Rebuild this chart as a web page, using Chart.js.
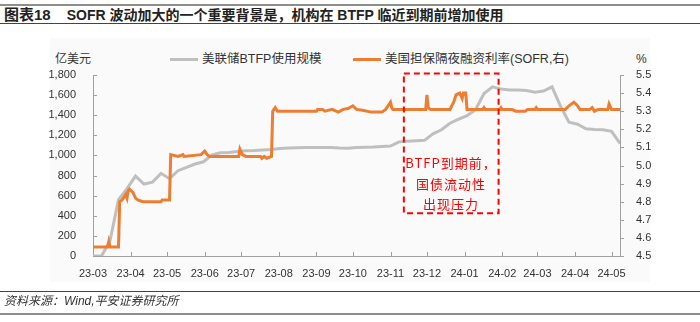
<!DOCTYPE html>
<html>
<head>
<meta charset="utf-8">
<script src="https://cdn.jsdelivr.net/npm/chart.js@4.4.1/dist/chart.umd.min.js"></script>
<style>
  body { margin: 0; background: #fff; }
  #wrap { position: relative; width: 700px; height: 322px; overflow: hidden; font-family: "Liberation Sans", "Noto Sans CJK SC", sans-serif; color: #222; }
  #wrap div { position: absolute; white-space: nowrap; }
  .topline { left: 0; top: 4px; width: 700px; height: 2px; background: #8e8e8e; }
  .title { left: 4px; top: 6px; font-size: 14px; font-weight: bold; line-height: 18px; }
  .title span { margin-right: 16px; font-size: 15px; }
  .titleline { left: 0; top: 23px; width: 700px; height: 1px; background: #444; }
  .panel { left: 50px; top: 38px; width: 600px; height: 244px; background: #fafafa; }
  .unit { top: 51px; font-size: 12px; line-height: 16px; color: #333; }
  .legend { top: 51px; font-size: 12.5px; line-height: 16px; color: #333; }
  .swatch { top: 58px; width: 28px; height: 3px; }
  .note { font-family: "Noto Sans CJK SC", sans-serif; color: #ff0000; font-size: 13px; line-height: 16px; letter-spacing: 1px; transform: translateX(-50%); }
  .footline1 { left: 0; top: 291px; width: 700px; height: 1px; background: #444; }
  .source { left: 4px; top: 293px; font-size: 12px; line-height: 16px; font-style: italic; color: #333; }
  .footline2 { left: 0; top: 313px; width: 700px; height: 2px; background: #8e8e8e; }
  canvas { position: absolute; left: 0; top: 0; }
</style>
</head>
<body>
<div id="wrap">
  <div class="topline"></div>
  <div class="title"><span>图表18</span>SOFR 波动加大的一个重要背景是，机构在 BTFP 临近到期前增加使用</div>
  <div class="titleline"></div>
  <div class="panel"></div>
  <div class="unit" style="left:55px">亿美元</div>
  <div class="unit" style="left:636px">%</div>
  <div class="swatch" style="left:170px;background:#bfbfbf"></div>
  <div class="legend" style="left:202px">美联储BTFP使用规模</div>
  <div class="swatch" style="left:353px;background:#ed7d31"></div>
  <div class="legend" style="left:385px">美国担保隔夜融资利率(SOFR,右)</div>
  <canvas id="chart" width="700" height="322"></canvas>
  <div class="note" style="left:451px;top:155px">BTFP到期前，</div>
  <div class="note" style="left:451px;top:176px">国债流动性</div>
  <div class="note" style="left:451px;top:196px">出现压力</div>
  <div class="footline1"></div>
  <div class="source">资料来源：Wind,平安证券研究所</div>
  <div class="footline2"></div>
</div>
<script>
// 月份刻度
const monthLabels = ['23-03', '23-04', '23-05', '23-06', '23-07', '23-08', '23-09', '23-10', '23-11', '23-12', '24-01', '24-02', '24-03', '24-04', '24-05'];

// 美联储BTFP使用规模（亿美元，周度）
const btfpDates = [
  '2023-03-01', '2023-03-08', '2023-03-15', '2023-03-22', '2023-03-29', '2023-04-05', '2023-04-12', '2023-04-19', '2023-04-26',
  '2023-05-03', '2023-05-10', '2023-05-17', '2023-05-24', '2023-05-31', '2023-06-07', '2023-06-14', '2023-06-21', '2023-06-28',
  '2023-07-05', '2023-07-12', '2023-07-19', '2023-07-26', '2023-08-02', '2023-08-09', '2023-08-16', '2023-08-23', '2023-08-30',
  '2023-09-06', '2023-09-13', '2023-09-20', '2023-09-27', '2023-10-04', '2023-10-11', '2023-10-18', '2023-10-25', '2023-11-01',
  '2023-11-08', '2023-11-15', '2023-11-22', '2023-11-29', '2023-12-06', '2023-12-13', '2023-12-20', '2023-12-27', '2024-01-03',
  '2024-01-10', '2024-01-17', '2024-01-24', '2024-01-31', '2024-02-07', '2024-02-14', '2024-02-21', '2024-02-28', '2024-03-06',
  '2024-03-13', '2024-03-20', '2024-03-27', '2024-04-03', '2024-04-10', '2024-04-17', '2024-04-24', '2024-05-01', '2024-05-08'
];
const btfpValues = [
  0, 0, 150, 560, 670, 795, 716, 735, 822,
  769, 848, 882, 915, 937, 1005, 1027, 1030, 1040,
  1047, 1050, 1055, 1060, 1068, 1075, 1077, 1078, 1078,
  1080, 1080, 1075, 1072, 1078, 1082, 1085, 1090, 1093,
  1135, 1140, 1145, 1150, 1215, 1255, 1320, 1360, 1395,
  1455, 1615, 1682, 1660, 1650, 1650, 1645, 1628, 1640,
  1682, 1490, 1330, 1310, 1265, 1258, 1256, 1240, 1120
];

// 美国担保隔夜融资利率 SOFR（%，右轴）
const sofrDates = [
  '2023-03-01', '2023-03-13', '2023-03-14', '2023-03-15', '2023-03-22', '2023-03-23', '2023-03-25', '2023-03-26', '2023-03-28',
  '2023-03-29', '2023-03-30', '2023-03-31', '2023-04-03', '2023-04-05', '2023-04-07', '2023-04-11', '2023-04-26', '2023-04-27',
  '2023-05-03', '2023-05-04', '2023-05-10', '2023-05-14', '2023-05-15', '2023-05-29', '2023-06-01', '2023-06-03', '2023-06-05',
  '2023-06-29', '2023-06-30', '2023-07-02', '2023-07-05', '2023-07-17', '2023-07-18', '2023-07-20', '2023-07-22', '2023-07-26',
  '2023-07-27', '2023-07-29', '2023-07-31', '2023-09-01', '2023-09-02', '2023-09-06', '2023-09-08', '2023-09-14', '2023-09-19',
  '2023-09-23', '2023-09-27', '2023-10-01', '2023-10-04', '2023-10-09', '2023-10-16', '2023-10-25', '2023-10-28', '2023-11-01',
  '2023-11-02', '2023-11-03', '2023-11-30', '2023-12-01', '2023-12-02', '2023-12-04', '2023-12-20', '2023-12-23', '2023-12-25',
  '2023-12-28', '2023-12-30', '2023-12-31', '2024-01-02', '2024-01-03', '2024-01-16', '2024-01-17', '2024-01-18', '2024-01-30',
  '2024-01-31', '2024-02-01', '2024-02-09', '2024-02-12', '2024-02-20', '2024-02-22', '2024-02-28', '2024-02-29', '2024-03-01',
  '2024-03-24', '2024-03-27', '2024-03-31', '2024-04-03', '2024-04-05', '2024-04-13', '2024-04-15', '2024-04-17', '2024-04-20',
  '2024-04-28', '2024-04-29', '2024-05-01', '2024-05-08'
];
const sofrValues = [
  4.55, 4.55, 4.58, 4.55, 4.55, 4.80, 4.81, 4.82, 4.84,
  4.82, 4.86, 4.87, 4.85, 4.82, 4.81, 4.80, 4.80, 4.81,
  4.81, 5.06, 5.05, 5.06, 5.05, 5.06, 5.08, 5.06, 5.05,
  5.05, 5.09, 5.06, 5.05, 5.05, 5.04, 5.05, 5.04, 5.05,
  5.30, 5.32, 5.30, 5.30, 5.31, 5.31, 5.30, 5.31, 5.295,
  5.31, 5.315, 5.33, 5.31, 5.305, 5.295, 5.295, 5.31, 5.35,
  5.32, 5.31, 5.31, 5.39, 5.32, 5.31, 5.31, 5.35, 5.39,
  5.40, 5.37, 5.40, 5.40, 5.31, 5.31, 5.32, 5.31, 5.31,
  5.32, 5.31, 5.31, 5.30, 5.30, 5.31, 5.31, 5.32, 5.31,
  5.31, 5.33, 5.35, 5.33, 5.31, 5.31, 5.32, 5.30, 5.31,
  5.31, 5.34, 5.31, 5.31
];

// 标注框范围
const boxFrom = '2023-11-12';
const boxTo = '2024-01-29';
const boxTop = 1815;
const boxBottom = 425;

const dayZero = Date.UTC(2023, 2, 1);
const toDay = (s) => {
  const [y, m, d] = s.split('-').map(Number);
  return (Date.UTC(y, m - 1, d) - dayZero) / 86400000;
};
const monthDays = monthLabels.map(l => toDay('20' + l + '-01'));

const axisColor = '#a0a0a0';

// 刻度线朝内 + 红色虚线框
const decorPlugin = {
  id: 'decor',
  beforeDatasetsDraw(chart) {
    const { ctx, scales: { x, y, y1 } } = chart;
    ctx.save();
    ctx.strokeStyle = axisColor;
    ctx.lineWidth = 1;
    ctx.beginPath();
    x.ticks.forEach(t => {
      const px = Math.round(x.getPixelForValue(t.value)) + 0.5;
      ctx.moveTo(px, y.bottom);
      ctx.lineTo(px, y.bottom - 4);
    });
    y.ticks.forEach(t => {
      const py = Math.round(y.getPixelForValue(t.value)) + 0.5;
      ctx.moveTo(x.left, py);
      ctx.lineTo(x.left + 4, py);
    });
    y1.ticks.forEach(t => {
      const py = Math.round(y1.getPixelForValue(t.value)) + 0.5;
      ctx.moveTo(x.right, py);
      ctx.lineTo(x.right + 4, py);
    });
    ctx.stroke();
    ctx.restore();
  },
  afterDatasetsDraw(chart) {
    const { ctx, scales: { x, y } } = chart;
    const l = x.getPixelForValue(toDay(boxFrom));
    const r = x.getPixelForValue(toDay(boxTo));
    const t = y.getPixelForValue(boxTop);
    const b = y.getPixelForValue(boxBottom);
    ctx.save();
    ctx.strokeStyle = '#ff0000';
    ctx.lineWidth = 2;
    ctx.setLineDash([6, 4]);
    ctx.strokeRect(l, t, r - l, b - t);
    ctx.restore();
  }
};

Chart.defaults.font.family = "'Liberation Sans', 'Noto Sans CJK SC', sans-serif";
Chart.defaults.font.size = 11;
Chart.defaults.color = '#333';

new Chart(document.getElementById('chart').getContext('2d'), {
  type: 'line',
  data: {
    datasets: [
      {
        label: '美国担保隔夜融资利率(SOFR,右)',
        data: sofrDates.map((d, i) => ({ x: toDay(d), y: sofrValues[i] })),
        yAxisID: 'y1',
        borderColor: '#ed7d31',
        borderWidth: 3,
        pointRadius: 0,
        tension: 0,
        order: 0
      },
      {
        label: '美联储BTFP使用规模',
        data: btfpDates.map((d, i) => ({ x: toDay(d), y: btfpValues[i] })),
        yAxisID: 'y',
        borderColor: '#bfbfbf',
        borderWidth: 3,
        pointRadius: 0,
        tension: 0,
        order: 1
      }
    ]
  },
  options: {
    responsive: false,
    animation: false,
    layout: { padding: { top: 75, left: 0, right: 0, bottom: 0 } },
    plugins: { legend: { display: false }, tooltip: { enabled: false } },
    scales: {
      x: {
        type: 'linear',
        min: 0,
        max: toDay(btfpDates[btfpDates.length - 1]),
        grid: { display: false },
        border: { display: true, color: axisColor },
        afterBuildTicks: (s) => { s.ticks = monthDays.map(v => ({ value: v })); },
        afterFit: (s) => { s.height = 66; },
        ticks: {
          autoSkip: false,
          maxRotation: 0,
          padding: 3,
          callback: (v, i) => monthLabels[i]
        }
      },
      y: {
        position: 'left',
        min: 0,
        max: 1800,
        grid: { display: false },
        border: { display: true, color: axisColor },
        afterFit: (s) => { s.width = 93; },
        ticks: {
          stepSize: 200,
          padding: 9,
          callback: (v) => v.toLocaleString('en-US')
        }
      },
      y1: {
        position: 'right',
        min: 4.5,
        max: 5.5,
        grid: { display: false },
        border: { display: true, color: axisColor },
        afterFit: (s) => { s.width = 80; },
        ticks: {
          stepSize: 0.1,
          padding: 8,
          callback: (v) => v.toFixed(1)
        }
      }
    }
  },
  plugins: [decorPlugin]
});
</script>
</body>
</html>
